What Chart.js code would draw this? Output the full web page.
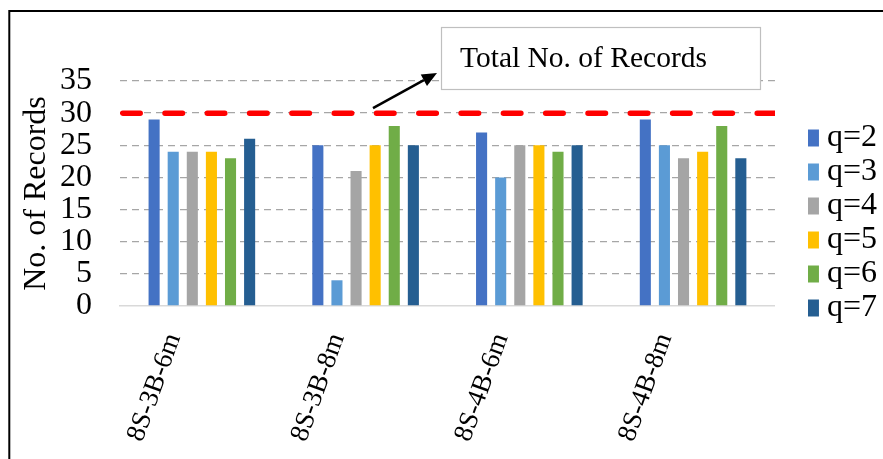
<!DOCTYPE html>
<html>
<head>
<meta charset="utf-8">
<title>No. of Records by configuration</title>
<script src="https://cdn.jsdelivr.net/npm/chart.js@4/dist/chart.umd.min.js"></script>
<style>
  html, body { margin: 0; padding: 0; background: #ffffff; }
  canvas { display: block; background: #ffffff; }
</style>
</head>
<body>
<canvas id="chart" width="883" height="459"></canvas>
<script>
// Configurations on the x axis
const categories = ['8S-3B-6m', '8S-3B-8m', '8S-4B-6m', '8S-4B-8m'];

// Records retrieved for each q value
const seriesNames = ['q=2', 'q=3', 'q=4', 'q=5', 'q=6', 'q=7'];
const q2 = [29, 25, 27, 29];
const q3 = [24, 4, 20, 25];
const q4 = [24, 21, 25, 23];
const q5 = [24, 25, 25, 24];
const q6 = [23, 28, 24, 28];
const q7 = [26, 25, 25, 23];

// Reference level and its caption
const TOTAL_RECORDS = 30;
const totalLabel = 'Total No. of Records';

// Value axis
const yMin = 0;
const yMax = 35;
const yStep = 5;
const yTitle = 'No. of Records';

const seriesColors = ['#4472C4', '#5B9BD5', '#A5A5A5', '#FFC000', '#70AD47', '#255E91'];
const serif = "'Times New Roman', 'Liberation Serif', serif";

const seriesValues = [q2, q3, q4, q5, q6, q7];
const datasets = seriesValues.map((vals, i) => ({
  label: seriesNames[i],
  data: vals,
  backgroundColor: seriesColors[i],
  borderWidth: 0,
  barPercentage: 0.58,
  categoryPercentage: 0.70
}));

// Outer frame, red total line and the callout box with its arrow
const decorations = {
  id: 'decorations',
  beforeDraw(chart) {
    const ctx = chart.ctx;
    ctx.save();
    ctx.strokeStyle = '#000000';
    ctx.lineWidth = 2;
    ctx.beginPath();
    ctx.moveTo(9.3, chart.height);
    ctx.lineTo(9.3, 11);
    ctx.lineTo(chart.width, 11);
    ctx.stroke();
    ctx.restore();
  },
  afterDatasetsDraw(chart) {
    const ctx = chart.ctx;
    const area = chart.chartArea;
    const y = chart.scales.y;
    const yTotal = y.getPixelForValue(TOTAL_RECORDS);

    // dashed red line at the total
    ctx.save();
    ctx.beginPath();
    ctx.rect(area.left, area.top - 10, area.right - area.left, area.bottom - area.top + 20);
    ctx.clip();
    ctx.strokeStyle = '#FF0000';
    ctx.lineWidth = 5.5;
    ctx.lineCap = 'round';
    ctx.setLineDash([17.5, 24.8]);
    ctx.beginPath();
    ctx.moveTo(area.left + 2.7, yTotal);
    ctx.lineTo(area.right + 10, yTotal);
    ctx.stroke();
    ctx.restore();

    // callout box
    const bx = area.left + 321;
    const by = area.top - 54;
    const bw = 319;
    const bh = 62;
    ctx.save();
    ctx.fillStyle = '#ffffff';
    ctx.fillRect(bx, by, bw, bh);
    ctx.strokeStyle = '#BFBFBF';
    ctx.lineWidth = 1.2;
    ctx.strokeRect(bx + 0.5, by + 0.5, bw, bh);
    ctx.fillStyle = '#000000';
    ctx.font = '29.5px ' + serif;
    ctx.textBaseline = 'middle';
    ctx.fillText(totalLabel, bx + 19, by + bh / 2 + 1);

    // arrow from the line towards the box
    const x0 = area.left + 253, y0 = yTotal - 5;
    const x1 = bx - 4, y1 = by + 46;
    const ang = Math.atan2(y1 - y0, x1 - x0);
    const head = 15, half = 6.5;
    const hx = x1 - head * Math.cos(ang), hy = y1 - head * Math.sin(ang);
    ctx.strokeStyle = '#000000';
    ctx.lineWidth = 2.5;
    ctx.beginPath();
    ctx.moveTo(x0, y0);
    ctx.lineTo(hx, hy);
    ctx.stroke();
    ctx.beginPath();
    ctx.moveTo(x1, y1);
    ctx.lineTo(hx + half * Math.sin(ang), hy - half * Math.cos(ang));
    ctx.lineTo(hx - half * Math.sin(ang), hy + half * Math.cos(ang));
    ctx.closePath();
    ctx.fillStyle = '#000000';
    ctx.fill();
    ctx.restore();
  }
};

new Chart(document.getElementById('chart'), {
  type: 'bar',
  data: { labels: categories, datasets },
  plugins: [decorations],
  options: {
    responsive: false,
    animation: false,
    devicePixelRatio: 1,
    layout: { padding: { left: 0, top: 81, right: -4, bottom: 0 } },
    plugins: {
      tooltip: { enabled: false },
      legend: {
        position: 'right',
        align: 'start',
        title: { display: true, text: ' ', font: { size: 30, lineHeight: 1 }, padding: { top: 9, bottom: 0 } },
        labels: {
          usePointStyle: true,
          pointStyle: 'rect',
          boxWidth: 1,
          boxHeight: 17,
          padding: 2,
          color: '#000000',
          font: { family: serif, size: 32 }
        }
      }
    },
    scales: {
      x: {
        grid: { display: false },
        border: { display: true, color: '#D9D9D9', width: 1.5 },
        ticks: {
          color: '#000000',
          font: { family: serif, size: 27 },
          minRotation: 70,
          maxRotation: 70,
          padding: 15,
          labelOffset: -28,
          autoSkip: false
        },
        afterFit(scale) { scale.height = 153; }
      },
      y: {
        min: yMin,
        max: yMax,
        ticks: {
          stepSize: yStep,
          autoSkip: false,
          color: '#000000',
          font: { family: serif, size: 32 },
          padding: 28
        },
        grid: {
          drawTicks: false,
          lineWidth: 1.3,
          color: (c) => (c.tick && c.tick.value === 0 ? 'rgba(0,0,0,0)' : '#A6A6A6')
        },
        border: { display: false, dash: [7, 5] },
        title: {
          display: true,
          text: yTitle,
          color: '#000000',
          font: { family: serif, size: 32, lineHeight: 1.2 },
          padding: { top: 17, bottom: 0 }
        },
        afterFit(scale) { scale.width = 120; }
      },
      gap: {
        type: 'linear',
        axis: 'y',
        position: 'right',
        display: true,
        grid: { display: false },
        border: { display: false },
        ticks: { display: false },
        afterFit(scale) { scale.width = 33; }
      }
    }
  }
});
</script>
</body>
</html>
